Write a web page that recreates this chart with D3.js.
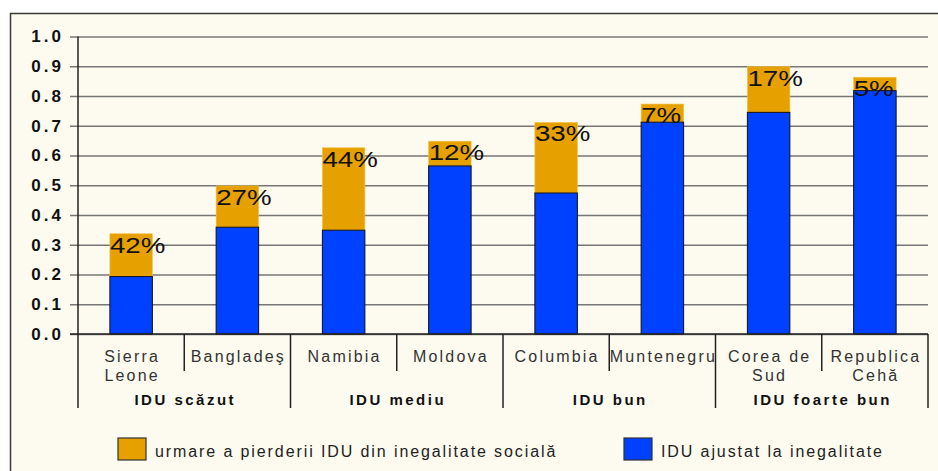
<!DOCTYPE html>
<html>
<head>
<meta charset="utf-8">
<script src="https://cdn.jsdelivr.net/npm/d3@7/dist/d3.min.js"></script>
<style>
  body { margin: 0; background: #fff; }
  svg { display: block; font-family: "Liberation Sans", Arial, sans-serif; }
</style>
</head>
<body>
<div id="chart"></div>
<script>
'use strict';

// data
const countries = ['Sierra Leone', 'Bangladeş', 'Namibia', 'Moldova',
  'Columbia', 'Muntenegru', 'Corea de Sud', 'Republica Cehă'];
// country label lines (as wrapped in the original)
const countryLines = [['Sierra', 'Leone'], ['Bangladeş'], ['Namibia'], ['Moldova'],
  ['Columbia'], ['Muntenegru'], ['Corea de', 'Sud'], ['Republica', 'Cehă']];
const adjusted = [0.193, 0.359, 0.349, 0.565, 0.474, 0.712, 0.745, 0.818];
const hdi = [0.337, 0.498, 0.626, 0.648, 0.711, 0.773, 0.899, 0.863];
const lossLabels = ['42%', '27%', '44%', '12%', '33%', '7%', '17%', '5%'];
const groups = ['IDU scăzut', 'IDU mediu', 'IDU bun', 'IDU foarte bun'];
const yTicks = [0, 0.1, 0.2, 0.3, 0.4, 0.5, 0.6, 0.7, 0.8, 0.9, 1.0];
const legendLabels = ['urmare a pierderii IDU din inegalitate socială', 'IDU ajustat la inegalitate'];

const width = 938, height = 471;
const margin = { top: 36.5, right: 10, bottom: 137, left: 78 };
const orange = '#e6a000', blue = '#0040ff';

const svg = d3.select('#chart').append('svg')
  .attr('width', width)
  .attr('height', height);

// outer frame (cut by the screenshot at right and bottom)
svg.append('rect')
  .attr('x', 10.5).attr('y', 13.5)
  .attr('width', width + 20).attr('height', height + 20)
  .attr('fill', '#fdfbef')
  .attr('stroke', '#3a3a3a')
  .attr('stroke-width', 1.5);

const x = d3.scaleBand()
  .domain(countries)
  .range([margin.left, width - margin.right])
  .paddingInner(0.6)
  .paddingOuter(0.3);

const y = d3.scaleLinear()
  .domain([0, 1])
  .range([height - margin.bottom, margin.top]);

const step = x.step();
const x0 = margin.left, x1 = width - margin.right;

// grid lines + y axis
const yAxis = d3.axisLeft(y)
  .tickValues(yTicks)
  .tickFormat(d3.format('.1f'))
  .tickSize(-(x1 - x0) - 8)
  .tickPadding(8);

const gy = svg.append('g')
  .attr('transform', `translate(${x0 - 8},0)`)
  .call(yAxis);
gy.select('.domain').remove();
gy.selectAll('.tick line')
  .attr('x1', 0)
  .attr('x2', x1 - x0 + 8)
  .attr('stroke', '#777')
  .attr('stroke-width', 1.3);
gy.selectAll('.tick text')
  .attr('x', -6)
  .attr('fill', '#111')
  .style('font-size', '17px')
  .style('font-weight', 'bold')
  .style('letter-spacing', '3px');

// bars
const bars = svg.append('g').selectAll('g')
  .data(countries)
  .join('g');

bars.append('rect')
  .attr('x', d => x(d))
  .attr('width', x.bandwidth())
  .attr('y', (d, i) => y(hdi[i]))
  .attr('height', (d, i) => y(adjusted[i]) - y(hdi[i]))
  .attr('fill', orange)
  .attr('stroke', '#f3c24a')
  .attr('stroke-width', 0.6);

bars.append('rect')
  .attr('x', d => x(d))
  .attr('width', x.bandwidth())
  .attr('y', (d, i) => y(adjusted[i]))
  .attr('height', (d, i) => y(0) - y(adjusted[i]))
  .attr('fill', blue)
  .attr('stroke', '#111')
  .attr('stroke-width', 1);

bars.append('text')
  .attr('transform', (d, i) => `translate(${x(d)},${y(hdi[i]) + 19}) scale(1.26,1)`)
  .attr('fill', '#111')
  .style('font-size', '22px')
  .text((d, i) => lossLabels[i]);

// axis lines
svg.append('line')
  .attr('x1', x0).attr('x2', x0)
  .attr('y1', y(1)).attr('y2', y(0))
  .attr('stroke', '#222').attr('stroke-width', 1.5);
svg.append('line')
  .attr('x1', x0 - 8).attr('x2', x1)
  .attr('y1', y(0)).attr('y2', y(0))
  .attr('stroke', '#222').attr('stroke-width', 1.5);

// category separators and labels
const sep = svg.append('g').attr('stroke', '#222').attr('stroke-width', 1.5);
d3.range(countries.length + 1).forEach(i => {
  const xx = x0 + i * step;
  sep.append('line')
    .attr('x1', xx).attr('x2', xx)
    .attr('y1', y(0))
    .attr('y2', i % 2 === 0 ? y(0) + 74 : y(0) + 37);
});

const cl = svg.append('g')
  .attr('text-anchor', 'middle')
  .style('font-size', '16px')
  .style('letter-spacing', '2.2px')
  .attr('fill', '#333');
countries.forEach((c, i) => {
  const t = cl.append('text')
    .attr('x', x(c) + x.bandwidth() / 2 + 1)
    .attr('y', y(0) + 28);
  countryLines[i].forEach((line, j) => {
    t.append('tspan')
      .attr('x', x(c) + x.bandwidth() / 2 + 1)
      .attr('dy', j === 0 ? 0 : 19)
      .text(line);
  });
});

svg.append('g')
  .attr('text-anchor', 'middle')
  .style('font-size', '15px')
  .style('font-weight', 'bold')
  .style('letter-spacing', '2.5px')
  .attr('fill', '#111')
  .selectAll('text')
  .data(groups)
  .join('text')
  .attr('x', (d, i) => x0 + (2 * i + 1) * step + 1)
  .attr('y', y(0) + 71)
  .text(d => d);

// legend
const legendX = [118, 624];
const legendColors = [orange, blue];
const lg = svg.append('g').selectAll('g')
  .data(legendLabels)
  .join('g')
  .attr('transform', (d, i) => `translate(${legendX[i]},438)`);
lg.append('rect')
  .attr('width', 28).attr('height', 22)
  .attr('fill', (d, i) => legendColors[i])
  .attr('stroke', '#333').attr('stroke-width', 1.2);
lg.append('text')
  .attr('x', 37).attr('y', 19)
  .attr('fill', '#222')
  .style('font-size', '16px')
  .style('letter-spacing', '1.9px')
  .text(d => d);
</script>
</body>
</html>
